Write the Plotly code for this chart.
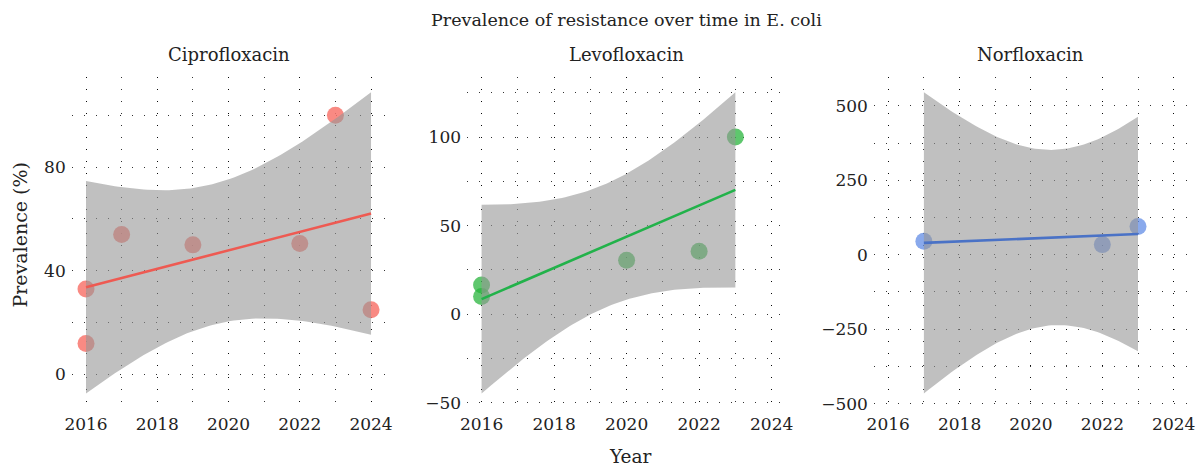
import numpy as np
import plotly.graph_objects as go

# ---- data ----
cipro_year = [2016, 2016, 2017, 2019, 2022, 2023, 2024]
cipro_prev = [33, 12, 54, 50, 50.5, 100, 25]
levo_year = [2016, 2016, 2020, 2022, 2023]
levo_prev = [16.5, 10, 30.5, 35.5, 100]
norflo_year = [2017, 2022, 2023]
norflo_prev = [45, 34, 95]

panel_names = ["Ciprofloxacin", "Levofloxacin", "Norfloxacin"]
x_ticks = [2016, 2018, 2020, 2022, 2024]
y_ticks = [[0, 40, 80], [-50, 0, 50, 100], [-500, -250, 0, 250, 500]]
y_minor = [20, 25, 125]

# t quantiles (0.975) by residual degrees of freedom
T975 = {1: 12.7062, 2: 4.3027, 3: 3.1824, 4: 2.7764, 5: 2.5706, 6: 2.4469}

point_colors = ["rgba(248,118,109,0.85)", "rgba(40,180,60,0.75)", "rgba(97,140,230,0.75)"]
line_colors = ["#EE5A52", "#22B24A", "#4A72C6"]

FONT = "DejaVu Serif"
W, H = 1195, 467


def px(xt):
    # horizontal placement correction (paper fraction)
    return min(1.0, max(0.0, (597 + (xt - 597) / 0.985) / W))


x_dom_px = [(73.5, 386), (467.5, 785.5), (873, 1186)]
y_dom = [1 - 413 / H, 1 - 78 / H]

fig = go.Figure()
series = [(cipro_year, cipro_prev), (levo_year, levo_prev), (norflo_year, norflo_prev)]
GRID = "rgba(0,0,0,0.8)"
DASH = "1px,11px"

for i, (xs, ys) in enumerate(series):
    xa = "x" if i == 0 else f"x{i+1}"
    ya = "y" if i == 0 else f"y{i+1}"
    x = np.array(xs, float)
    y = np.array(ys, float)
    n = len(x)
    mx = x.mean()
    sxx = ((x - mx) ** 2).sum()
    b = ((x - mx) * (y - y.mean())).sum() / sxx
    a = y.mean() - b * mx
    resid = y - (a + b * x)
    s = np.sqrt((resid ** 2).sum() / (n - 2))
    t = T975[n - 2]
    gx = np.linspace(x.min(), x.max(), 80)
    gy = a + b * gx
    se = s * np.sqrt(1 / n + (gx - mx) ** 2 / sxx)
    lo, hi = gy - t * se, gy + t * se

    fig.add_trace(go.Scatter(x=x, y=y, mode="markers", xaxis=xa, yaxis=ya,
                             marker=dict(size=17, color=point_colors[i], line=dict(width=0)),
                             showlegend=False, hoverinfo="skip"))
    fig.add_trace(go.Scatter(x=np.concatenate([gx, gx[::-1]]), y=np.concatenate([hi, lo[::-1]]),
                             mode="lines", fill="toself", fillcolor="rgba(150,150,150,0.6)",
                             line=dict(width=0), xaxis=xa, yaxis=ya, showlegend=False, hoverinfo="skip"))
    fig.add_trace(go.Scatter(x=gx, y=gy, mode="lines", line=dict(color=line_colors[i], width=2.6),
                             xaxis=xa, yaxis=ya, showlegend=False, hoverinfo="skip"))

    ymin, ymax = min(lo.min(), y.min()), max(hi.max(), y.max())
    pad = 0.05 * (ymax - ymin)
    ax_common = dict(showline=False, zeroline=False, ticks="", showgrid=True,
                     gridcolor=GRID, gridwidth=1, griddash=DASH, ticklabeloverflow="allow",
                     tickfont=dict(family=FONT, size=17, color="#222"))
    d0, d1 = px(x_dom_px[i][0]), px(x_dom_px[i][1])
    fig.layout[("xaxis" if i == 0 else f"xaxis{i+1}")] = dict(
        ax_common, domain=[d0, d1], range=[2015.6, 2024.4],
        tickvals=x_ticks, anchor=ya, ticklabelstandoff=3,
        minor=dict(dtick=1, tick0=2015, showgrid=True, gridcolor=GRID,
                   gridwidth=1, griddash=DASH))
    fig.layout[("yaxis" if i == 0 else f"yaxis{i+1}")] = dict(
        ax_common, domain=y_dom, range=[ymin - pad, ymax + pad], tickvals=y_ticks[i],
        anchor=xa, ticklabelstandoff=5,
        minor=dict(dtick=y_minor[i] * 2, tick0=y_minor[i], showgrid=True,
                   gridcolor=GRID, gridwidth=1, griddash=DASH))
    fig.add_annotation(text=panel_names[i], xref="paper", yref="paper",
                       x=(d0 + d1) / 2, y=1 - 55 / H,
                       xanchor="center", yanchor="middle",
                       showarrow=False, font=dict(family=FONT, size=18, color="#222"))

fig.add_annotation(text="Prevalence of resistance over time in E. coli", xref="paper", yref="paper",
                   x=px(626), y=1 - 20 / H, xanchor="center", yanchor="middle", showarrow=False,
                   font=dict(family=FONT, size=17.5, color="#222"))
fig.add_annotation(text="Year", xref="paper", yref="paper", x=px(630), y=1 - 461 / H,
                   xanchor="center", yanchor="middle",
                   showarrow=False, font=dict(family=FONT, size=18.5, color="#222"))
fig.add_annotation(text="Prevalence (%)", xref="paper", yref="paper", x=px(22), y=1 - 237 / H,
                   xanchor="center", yanchor="middle",
                   textangle=-90, showarrow=False, font=dict(family=FONT, size=19, color="#222"))

fig.update_layout(width=W, height=H, margin=dict(l=0, r=0, t=0, b=0),
                  paper_bgcolor="white", plot_bgcolor="white",
                  font=dict(family=FONT, color="#222"))
fig.write_html("out.html", config={"displayModeBar": False},
               post_script=("document.documentElement.style.overflow='hidden';"
                            "document.body.style.overflow='hidden';"
                            "document.body.style.margin='0';"))
